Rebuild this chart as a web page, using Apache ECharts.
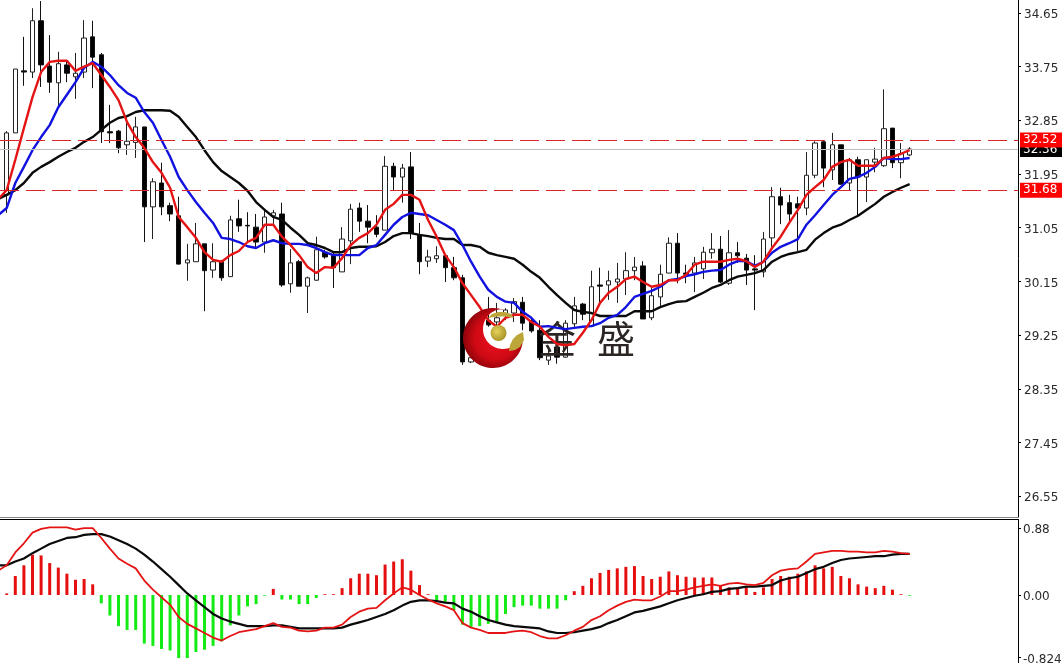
<!DOCTYPE html>
<html><head><meta charset="utf-8">
<style>html,body{margin:0;padding:0;background:#fff}#c{width:1062px;height:663px}</style>
<script src="https://cdn.jsdelivr.net/npm/echarts@6/dist/echarts.min.js"></script>
</head><body><div id="c"></div>
<script>
const opens=[31.60,32.64,33.68,33.66,34.52,33.76,33.48,33.78,33.58,33.66,
34.25,33.95,32.66,32.67,32.44,32.48,32.74,31.40,31.80,31.42,
31.25,30.46,30.48,30.78,30.34,30.48,30.23,31.20,31.09,31.06,
30.81,31.25,31.28,30.11,30.48,30.07,30.17,30.64,30.59,30.31,
30.83,31.38,31.16,31.06,31.01,32.08,31.90,32.07,30.93,30.49,
30.53,30.58,30.38,30.21,28.80,29.08,29.50,29.47,29.59,29.62,
29.80,29.49,29.33,28.83,29.05,28.88,29.44,29.77,29.40,30.09,
30.09,30.14,30.19,30.33,30.41,29.54,29.89,30.29,30.79,30.29,
30.29,30.36,30.63,30.69,30.12,30.63,30.54,30.36,30.31,30.88,
31.57,31.47,31.45,31.38,31.93,32.49,32.02,32.44,31.80,32.19,
31.90,32.15,32.09,32.72,32.14,32.27];
const closes=[32.64,33.71,33.66,34.52,33.78,33.49,33.80,33.64,33.64,34.23,
33.91,32.66,32.64,32.39,32.50,32.74,31.40,31.82,31.40,31.28,
30.44,30.51,30.78,30.33,30.48,30.21,31.18,31.08,31.08,30.81,
31.23,31.30,30.09,30.46,30.07,30.21,30.68,30.56,30.38,30.86,
31.36,31.16,31.06,30.94,32.08,31.90,32.05,30.96,30.48,30.56,
30.58,30.38,30.21,28.80,28.87,29.42,29.42,29.54,29.67,29.81,
29.45,29.32,28.87,28.90,28.88,29.45,29.74,29.60,30.06,30.07,
30.16,30.19,30.33,30.39,29.52,29.91,30.27,30.79,30.29,30.27,
30.46,30.64,30.69,30.14,30.63,30.58,30.34,30.34,30.86,31.57,
31.43,31.28,31.38,31.93,32.47,32.05,32.44,31.78,32.19,31.90,
32.19,32.20,32.71,32.14,32.29,32.37];
const lows=[31.30,32.64,33.43,33.56,33.41,33.31,33.07,33.49,33.21,33.56,
33.39,32.47,32.47,32.30,32.27,32.22,30.81,30.86,31.26,31.16,
30.43,30.16,30.48,29.65,30.21,30.16,30.23,30.98,30.81,30.71,
30.63,31.10,30.06,29.96,30.07,29.62,30.16,30.53,30.04,30.31,
30.44,30.98,30.79,30.89,31.01,31.68,31.47,30.86,30.27,30.39,
30.46,30.14,30.17,28.75,28.78,28.97,29.39,29.42,29.50,29.47,
29.33,29.29,28.83,28.75,28.77,28.87,29.35,29.50,29.40,29.74,
29.84,29.79,29.92,30.17,29.52,29.50,29.72,30.29,30.12,30.12,
29.97,30.19,30.53,30.12,30.09,30.46,30.09,29.67,30.22,30.73,
31.11,31.15,30.66,31.26,31.88,31.73,31.85,31.77,31.68,31.26,
31.48,31.98,32.07,32.05,31.88,32.25];
const highs=[32.67,33.71,34.25,34.73,34.85,34.28,34.00,33.86,33.98,34.53,
34.52,33.98,33.11,32.69,32.91,32.91,32.74,31.88,32.14,31.47,
31.57,30.78,31.13,30.78,30.79,30.51,31.25,31.52,31.31,31.28,
31.35,31.35,31.47,30.69,30.51,30.23,30.90,30.68,30.63,31.06,
31.45,31.47,31.43,31.26,32.25,32.14,32.12,32.32,31.13,30.68,
30.74,30.59,30.56,30.26,29.00,29.64,29.89,29.79,29.70,29.87,
29.89,29.52,29.50,29.00,29.09,29.50,29.89,29.79,30.33,30.38,
30.33,30.46,30.64,30.56,30.49,30.07,30.43,30.89,30.96,30.43,
30.56,30.73,30.96,30.91,31.01,30.81,30.61,30.59,30.98,31.73,
31.72,31.60,31.57,32.32,32.50,32.52,32.64,32.44,32.22,32.24,
32.19,32.39,33.37,32.72,32.47,32.40];
// moving averages: first value belongs to the bar just left of the window
const maFast=[31.53,
31.68,32.19,32.72,33.24,33.66,33.83,33.85,33.85,33.68,33.75,
33.81,33.61,33.41,33.19,32.82,32.57,32.39,32.15,31.97,31.72,
31.23,31.06,30.88,30.64,30.51,30.48,30.59,30.66,30.81,30.88,
31.10,31.10,30.90,30.76,30.59,30.39,30.29,30.39,30.38,30.54,
30.76,30.88,30.96,31.10,31.35,31.45,31.60,31.60,31.52,31.18,
30.90,30.59,30.39,30.12,29.92,29.72,29.50,29.39,29.54,29.59,
29.59,29.47,29.39,29.22,29.10,29.08,29.10,29.29,29.50,29.79,
29.96,30.06,30.19,30.23,30.14,30.06,30.09,30.17,30.17,30.26,
30.43,30.48,30.48,30.48,30.51,30.53,30.49,30.39,30.48,30.71,
30.90,31.13,31.35,31.60,31.73,31.85,32.07,32.15,32.19,32.09,
32.09,32.09,32.22,32.24,32.29,32.35];
const maMid=[31.26,
31.38,31.80,32.07,32.35,32.57,32.77,33.07,33.28,33.49,33.73,
33.83,33.75,33.61,33.44,33.31,33.23,32.99,32.81,32.52,32.24,
31.90,31.68,31.48,31.30,31.13,30.88,30.86,30.81,30.74,30.71,
30.79,30.84,30.79,30.78,30.78,30.76,30.71,30.64,30.59,30.59,
30.59,30.59,30.71,30.76,30.93,31.10,31.23,31.30,31.28,31.26,
31.18,31.10,31.01,30.76,30.48,30.23,30.01,29.89,29.81,29.79,
29.64,29.54,29.39,29.40,29.37,29.35,29.37,29.39,29.40,29.45,
29.54,29.59,29.72,29.89,29.94,29.99,30.06,30.17,30.19,30.24,
30.27,30.31,30.33,30.34,30.43,30.49,30.49,30.41,30.48,30.63,
30.73,30.79,30.86,31.10,31.26,31.43,31.60,31.73,31.87,31.90,
31.97,32.07,32.22,32.20,32.20,32.22];
const maSlow=[31.53,
31.60,31.68,31.80,31.97,32.07,32.15,32.24,32.32,32.39,32.49,
32.57,32.69,32.81,32.89,32.92,32.99,33.02,33.02,33.02,33.01,
32.91,32.74,32.57,32.35,32.15,32.00,31.90,31.80,31.67,31.48,
31.35,31.23,31.18,31.05,30.93,30.79,30.76,30.71,30.64,30.64,
30.71,30.73,30.73,30.74,30.81,30.91,30.96,30.96,30.93,30.91,
30.88,30.86,30.86,30.76,30.76,30.73,30.63,30.59,30.56,30.53,
30.43,30.31,30.21,30.06,29.92,29.79,29.67,29.64,29.62,29.57,
29.57,29.57,29.57,29.65,29.65,29.65,29.72,29.77,29.81,29.82,
29.89,29.96,30.04,30.09,30.17,30.23,30.26,30.29,30.34,30.48,
30.56,30.61,30.64,30.68,30.85,30.96,31.05,31.10,31.18,31.25,
31.35,31.45,31.57,31.65,31.72,31.78];
// MACD panel: first value of the two lines belongs to the bar left of the window
const macdHist=[0.02,0.25,0.39,0.53,0.52,0.42,0.36,0.28,0.20,0.21,
0.14,-0.11,-0.27,-0.41,-0.46,-0.46,-0.64,-0.67,-0.71,-0.73,
-0.83,-0.83,-0.75,-0.72,-0.67,-0.61,-0.40,-0.27,-0.15,-0.12,
-0.01,0.08,-0.06,-0.06,-0.12,-0.12,-0.04,0.01,0.01,0.09,
0.22,0.28,0.28,0.26,0.40,0.44,0.47,0.32,0.13,0.01,
-0.07,-0.09,-0.20,-0.39,-0.42,-0.41,-0.38,-0.35,-0.25,-0.16,
-0.14,-0.14,-0.18,-0.18,-0.18,-0.07,0.05,0.12,0.22,0.29,
0.33,0.35,0.37,0.38,0.25,0.21,0.24,0.31,0.26,0.24,
0.23,0.23,0.23,0.12,0.10,0.10,0.10,0.04,0.10,0.21,
0.25,0.24,0.28,0.31,0.39,0.35,0.37,0.25,0.22,0.14,
0.11,0.09,0.12,0.07,0.01,-0.01];
const macdFast=[0.32,
0.39,0.56,0.68,0.82,0.87,0.89,0.89,0.89,0.86,0.88,
0.88,0.75,0.61,0.48,0.41,0.35,0.19,0.07,-0.03,-0.13,
-0.29,-0.38,-0.44,-0.50,-0.56,-0.60,-0.54,-0.49,-0.47,-0.45,
-0.41,-0.37,-0.42,-0.43,-0.47,-0.48,-0.47,-0.43,-0.43,-0.39,
-0.29,-0.22,-0.18,-0.17,-0.07,0.02,0.10,0.07,0.00,-0.06,
-0.11,-0.15,-0.20,-0.37,-0.43,-0.46,-0.50,-0.50,-0.50,-0.48,
-0.47,-0.49,-0.54,-0.57,-0.57,-0.53,-0.47,-0.42,-0.33,-0.28,
-0.20,-0.14,-0.09,-0.06,-0.07,-0.07,-0.02,0.05,0.05,0.07,
0.10,0.12,0.14,0.12,0.15,0.16,0.14,0.13,0.16,0.26,
0.32,0.34,0.35,0.44,0.54,0.56,0.58,0.58,0.57,0.57,
0.56,0.56,0.58,0.57,0.55,0.54];
const macdSlow=[0.39,
0.39,0.44,0.48,0.55,0.61,0.67,0.71,0.75,0.76,0.79,
0.80,0.80,0.77,0.72,0.67,0.61,0.53,0.44,0.34,0.24,
0.13,0.02,-0.07,-0.16,-0.25,-0.31,-0.35,-0.38,-0.41,-0.41,
-0.41,-0.40,-0.40,-0.42,-0.44,-0.44,-0.44,-0.44,-0.44,-0.43,
-0.39,-0.36,-0.33,-0.29,-0.25,-0.20,-0.14,-0.09,-0.07,-0.07,
-0.08,-0.10,-0.11,-0.18,-0.22,-0.28,-0.33,-0.36,-0.39,-0.41,
-0.42,-0.43,-0.44,-0.48,-0.50,-0.50,-0.49,-0.47,-0.45,-0.42,
-0.37,-0.33,-0.28,-0.23,-0.21,-0.18,-0.15,-0.11,-0.07,-0.04,
-0.01,0.01,0.04,0.05,0.08,0.09,0.11,0.11,0.12,0.13,
0.19,0.22,0.24,0.29,0.34,0.37,0.42,0.46,0.48,0.49,
0.50,0.51,0.51,0.53,0.54,0.54];
const priceTicks=[26.55,27.45,28.35,29.25,30.15,31.05,31.95,32.85,33.75,34.65];
const macdTicks=[-0.824,0,0.88];
const macdTickLabels=['-0.824','0.00','0.88'];
const levelHigh=32.52, levelLow=31.68, lastPrice=32.36;
const logoWords=['金','盛'];

const barsMin=-0.779, barsMax=117.6;
const candleData=opens.map((o,i)=>[i,o,closes[i],lows[i],highs[i]]);
const histData=macdHist.map((v,i)=>({value:[i,v],itemStyle:{color:v>=0?'#e60f0f':'#14eb14'}}));
const lineData=a=>a.map((v,i)=>[i-1,v]);
const font='"DejaVu Sans",sans-serif';
const line=(name,data,color,g,w,z)=>({name,type:'line',data:lineData(data),xAxisIndex:g,yAxisIndex:g,symbol:'none',silent:true,
  lineStyle:{color,width:w},itemStyle:{color},z,animation:false});
const xAxis=(g,pos,col)=>({type:'value',gridIndex:g,min:barsMin,max:barsMax,position:pos,
  axisLine:{show:true,onZero:false,lineStyle:{color:col,width:1}},axisTick:{show:false},axisLabel:{show:false},splitLine:{show:false}});
const yBase={position:'right',scale:false,splitLine:{show:false},axisLine:{show:true,onZero:false,lineStyle:{color:'#000',width:1}}};
const tickRich={v:{padding:[4,0,0,0],color:'#2a2a2a',fontFamily:font,fontSize:12}};
const tag=(y,bg)=>({yAxis:y,label:{show:true,position:'end',distance:2,formatter:y.toFixed(2),color:'#fff',backgroundColor:bg,
  fontFamily:font,fontSize:12,padding:[3,6,0,3],lineHeight:12}});
// logo crescent outline, an outer arc and an inner arc sampled as a polygon
const arcPts=(cx,cy,r,a0,a1,n)=>Array.from({length:n+1},(_,k)=>{const a=(a0+(a1-a0)*k/n)*Math.PI/180;return [cx+r*Math.cos(a),cy+r*Math.sin(a)];});
const crescent=arcPts(493,338,30,-70,-350,60).concat(arcPts(503,329,20,30,270,50));

const chart=echarts.init(document.getElementById('c'),null,{renderer:'canvas'});
chart.setOption({
  animation:false,backgroundColor:'#fff',
  grid:[{left:0,top:0,width:1018,height:517,containLabel:false,outerBoundsMode:'none'},
        {left:0,top:519.5,width:1018,height:143.5,containLabel:false,outerBoundsMode:'none'}],
  xAxis:[xAxis(0,'bottom','#888'),xAxis(1,'top','#000')],
  yAxis:[
    Object.assign({},yBase,{type:'value',gridIndex:0,min:26.2,max:34.868,
      axisTick:{show:true,length:3,inside:false,customValues:priceTicks,lineStyle:{color:'#000'}},
      axisLabel:{customValues:priceTicks,margin:6,rich:tickRich,formatter:v=>'{v|'+v.toFixed(2)+'}'}}),
    Object.assign({},yBase,{type:'value',gridIndex:1,min:-0.895,max:0.993,
      axisTick:{show:true,length:3,customValues:macdTicks,lineStyle:{color:'#000'}},
      axisLabel:{customValues:macdTicks,margin:5,rich:tickRich,
        formatter:v=>'{v|'+macdTickLabels[macdTicks.indexOf(v)]+'}'}})
  ],
  series:[
    {type:'line',data:[],xAxisIndex:0,yAxisIndex:0,symbol:'none',silent:true,z:1,
      markLine:{silent:true,symbol:'none',animation:false,
        lineStyle:{color:'#bdbdbd',type:'solid',width:1},
        data:[tag(lastPrice,'#000')]}},
    {type:'line',data:[],xAxisIndex:0,yAxisIndex:0,symbol:'none',silent:true,z:1,
      markLine:{silent:true,symbol:'none',animation:false,
        lineStyle:{color:'#d8262a',type:[19,7],width:1.2},
        data:[tag(levelHigh,'#fe0000'),tag(levelLow,'#fe0000')]}},
    {type:'candlestick',data:candleData,xAxisIndex:0,yAxisIndex:0,barWidth:5,silent:true,z:2,
      itemStyle:{color:'#fff',color0:'#000',borderColor:'#222',borderColor0:'#111',borderWidth:1}},
    line('slow',maSlow,'#0a0a0a',0,2.4,3),
    line('mid',maMid,'#1212e0',0,2.4,4),
    line('fast',maFast,'#e41414',0,2.4,5),
    {type:'bar',data:histData,xAxisIndex:1,yAxisIndex:1,barWidth:3,silent:true,z:2},
    line('signal',macdSlow,'#0a0a0a',1,2.2,3),
    line('macd',macdFast,'#e41414',1,1.8,4)
  ],
  graphic:{elements:[
    {type:'polygon',z:100,shape:{points:crescent},
      style:{fill:new echarts.graphic.RadialGradient(0.55,0.5,0.6,[{offset:0,color:'#f01020'},{offset:0.6,color:'#cf0a14'},{offset:1,color:'#7c0208'}])}},
    {type:'circle',z:101,shape:{cx:498.5,cy:333,r:8},
      style:{fill:new echarts.graphic.RadialGradient(0.4,0.4,0.7,[{offset:0,color:'#e6d25a'},{offset:1,color:'#a08c24'}])}},
    {type:'polygon',z:101,shape:{points:[[488,318],[492,314],[498,312],[505,312],[511,314],[514,318],[506,316.5],[497,316.5]]},style:{fill:'#bca63a'}},
    {type:'polygon',z:101,shape:{points:[[509,351],[510,345],[513,339],[517,335],[523,332],[524,340],[520,347],[515,350]]},style:{fill:'#bca63a'}},
    {type:'text',z:2.5,x:557,y:339,style:{text:logoWords[0],font:'38px "Noto Sans CJK SC"',fill:'#2b2623',align:'center',verticalAlign:'middle'}},
    {type:'text',z:2.5,x:616,y:339,style:{text:logoWords[1],font:'38px "Noto Sans CJK SC"',fill:'#2b2623',align:'center',verticalAlign:'middle'}}
  ]}
});
</script></body></html>
